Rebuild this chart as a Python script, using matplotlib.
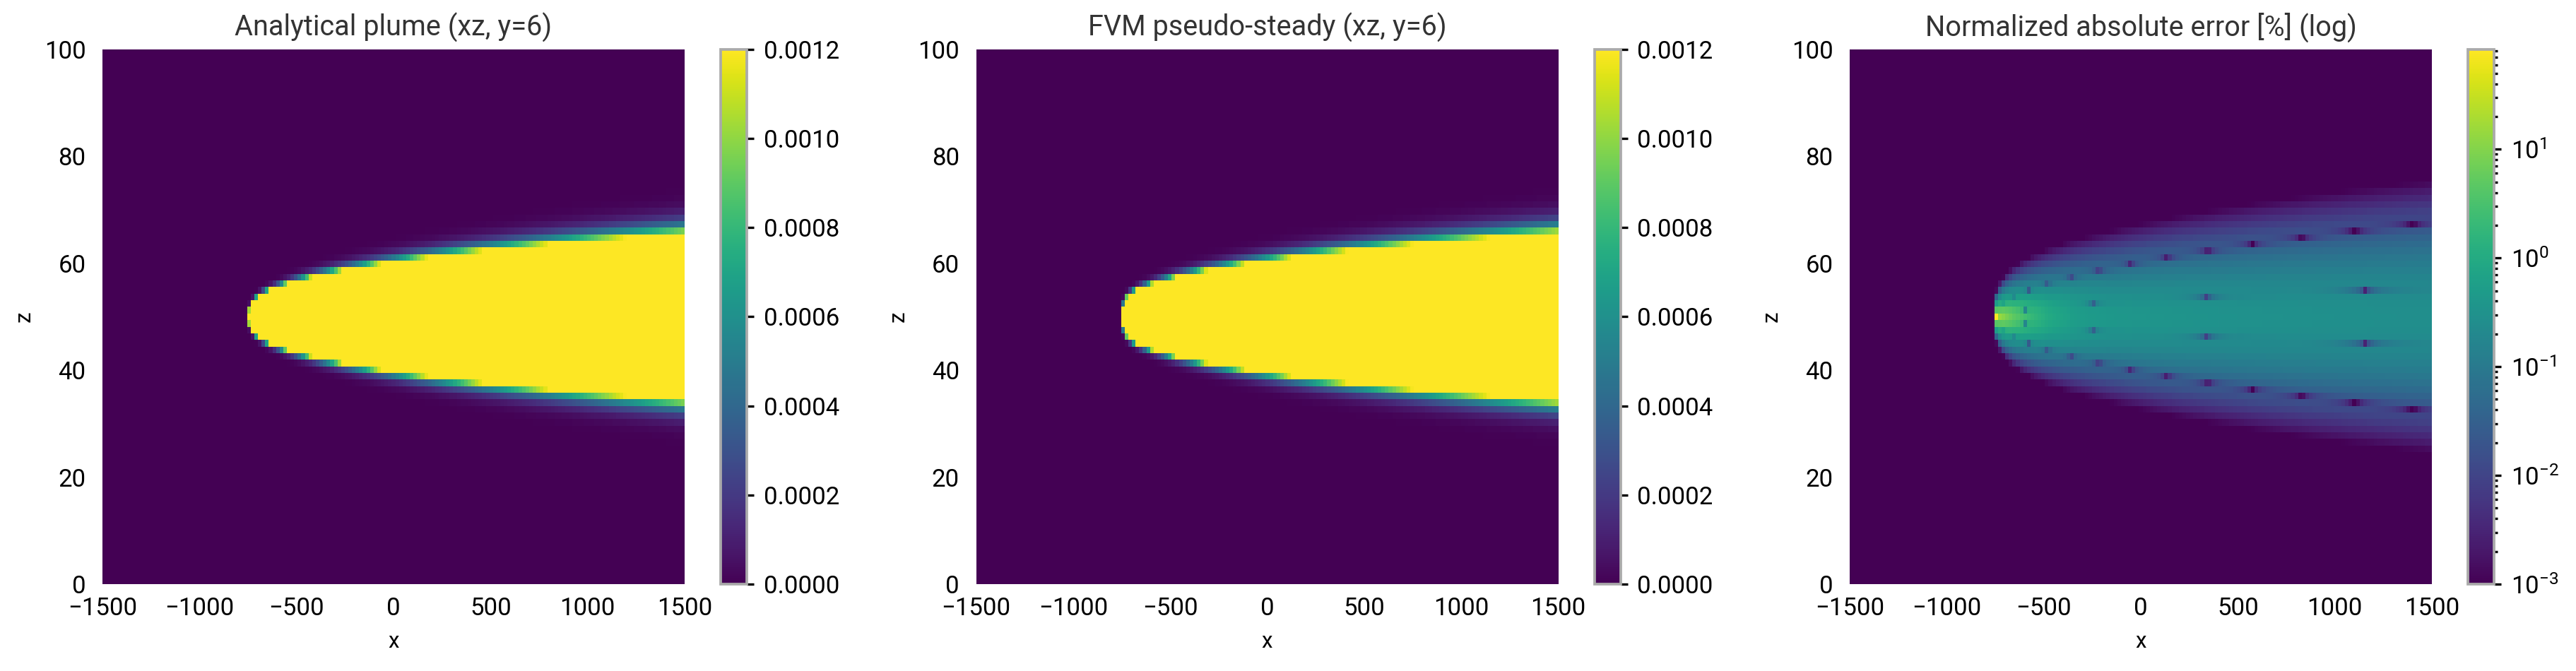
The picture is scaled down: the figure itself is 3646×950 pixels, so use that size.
import numpy as np
import matplotlib
matplotlib.use("Agg")
import matplotlib.pyplot as plt
from matplotlib.colors import LogNorm, Normalize

plt.rcParams['font.family'] = ['Roboto', 'DejaVu Sans']
plt.rcParams['mathtext.default'] = 'regular'

# ---------------- data ----------------
x_nodes = np.linspace(-1500, 1500, 161)     # grid columns
z_nodes = np.linspace(0, 100, 81)           # grid rows
x_ticks = [-1500, -1000, -500, 0, 500, 1000, 1500]
z_ticks = [0, 20, 40, 60, 80, 100]
titles = ["Analytical plume (xz, y=6)", "FVM pseudo-steady (xz, y=6)",
          "Normalized absolute error [%] (log)"]

# Gaussian plume parameters
source_x = -768.75
source_z = 50.0
y_slice = 6.0
q_over_u = 48.4
sigma_y_coef = 0.356
sigma_z_coef = 0.114
sigma_z0_sq = 0.5
fvm_extra_sz2 = 0.6
fvm_extra_sy2 = 0.3
conc_vmax = 0.0012

# error field: centre amplitudes [%] along the plume axis (distance from source)
err_broad_s = [18.75, 37.5, 75, 150, 300, 600, 1200, 2269]
err_broad_amp = [4.0, 3.5, 2.6, 1.5, 0.75, 0.42, 0.32, 0.27]
err_spike_s = [18.75, 37.5, 56.25, 93.75, 150, 250, 400]
err_spike_amp = [79.0, 11.0, 8.0, 4.0, 1.8, 0.5, 0.05]
err_width0 = 1.25
err_width_pow = 0.38
# zero-crossing chains of the error (dark dots): d = c*sqrt(s - s1)
notch_inner = (0.1152, 50.0)
notch_outer = (0.3758, 9.0)
notch_rel = 0.05
err_vmin = 1e-3

# ---------------- fields ----------------
S, Z = np.meshgrid(x_nodes - source_x, z_nodes)
D = np.abs(Z - source_z)


def plume(ey2=0.0, ez2=0.0):
    C = np.zeros_like(S)
    m = S > 0
    s = S[m]
    sy2 = sigma_y_coef ** 2 * s + ey2
    sz2 = sigma_z0_sq + sigma_z_coef ** 2 * s + ez2
    C[m] = (q_over_u / (2 * np.pi * np.sqrt(sy2 * sz2))
            * np.exp(-y_slice ** 2 / (2 * sy2))
            * np.exp(-D[m] ** 2 / (2 * sz2)))
    return C


C_an = plume()
C_fvm = plume(fvm_extra_sy2, fvm_extra_sz2)


def loginterp(s, xs, ys):
    return np.exp(np.interp(np.log(s), np.log(xs), np.log(ys),
                            left=np.log(ys[0]), right=-30))


err = np.zeros_like(S)
m = S > 0
s = S[m]
d = D[m]
broad = np.exp(np.interp(np.log(s), np.log(err_broad_s), np.log(err_broad_amp)))
spike = loginterp(s, err_spike_s, err_spike_amp)
we = err_width0 * (s / 18.75) ** err_width_pow
ws = sigma_z_coef * np.sqrt(s)
val = broad * np.exp(-d ** 2 / (2 * we ** 2)) + spike * np.exp(-d ** 2 / (2 * ws ** 2))
for c, s1 in (notch_inner, notch_outer):
    d0 = c * np.sqrt(np.clip(s - s1, 1e-6, None))
    val *= np.abs(d - d0) / np.sqrt((d - d0) ** 2 + (notch_rel * d0) ** 2 + 1e-12)
err[m] = val
err = np.maximum(err, 1e-6)

# ---------------- figure ----------------
W, H = 3646, 950
fig = plt.figure(figsize=(W / 100, H / 100), dpi=100)

ax_lefts = [145, 1381.5, 2618]
ax_w, ax_bottom, ax_top = 824, 827, 70
cb_off, cb_w = 875, 37

extent = [x_nodes[0], x_nodes[-1], z_nodes[0], z_nodes[-1]]
fields = [C_an, C_fvm, err]
norms = [Normalize(0, conc_vmax), Normalize(0, conc_vmax), LogNorm(err_vmin, err.max())]

for i in range(3):
    l = ax_lefts[i]
    ax = fig.add_axes([l / W, (H - ax_bottom) / H, ax_w / W, (ax_bottom - ax_top) / H])
    im = ax.imshow(fields[i], origin='lower', extent=extent, aspect='auto',
                   cmap='viridis', norm=norms[i], interpolation='nearest')
    ax.set_xlim(-1500, 1500)
    ax.set_ylim(0, 100)
    ax.set_xticks(x_ticks)
    ax.set_yticks(z_ticks)
    for sp in ax.spines.values():
        sp.set_visible(False)
    ax.tick_params(length=0, labelsize=25, pad=13)
    ax.tick_params(axis='y', pad=17)
    ax.set_title(titles[i], fontsize=28.5, color='#333333', pad=14)
    ax.set_xlabel('x', fontsize=22.5)
    ax.set_ylabel('z', fontsize=22.5)
    ax.xaxis.set_label_coords(0.5, -0.088)
    ax.yaxis.set_label_coords(-0.1165, 0.5)

    cax = fig.add_axes([(l + cb_off) / W, (H - ax_bottom) / H, cb_w / W,
                        (ax_bottom - ax_top) / H])
    cb = fig.colorbar(im, cax=cax)
    cb.outline.set_edgecolor('#aaaaaa')
    cb.outline.set_linewidth(2.7)
    cax.tick_params(which='major', length=7.2, width=2.4, labelsize=25, pad=10)
    cax.tick_params(which='minor', length=3.6, width=2.4)

fig.savefig('out.png', dpi=100)
